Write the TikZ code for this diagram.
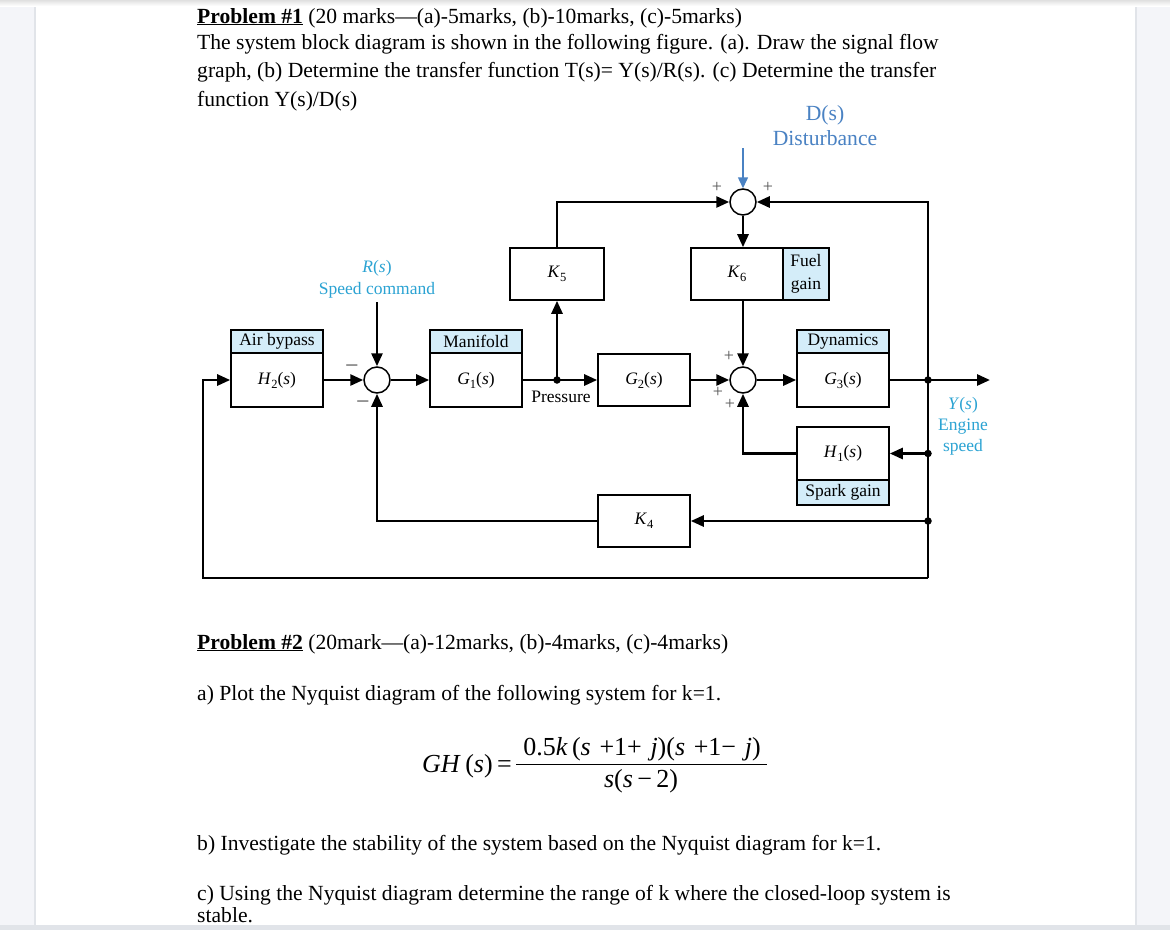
\documentclass[tikz,border=0pt]{standalone}
\usepackage{fontspec}
\setmainfont{Liberation Serif}
\usetikzlibrary{arrows.meta,calc}
\definecolor{bggray}{HTML}{F4F5F9}
\definecolor{edgegray}{HTML}{E1E4E9}
\definecolor{hdrblue}{HTML}{D4EDF9}
\definecolor{dblue}{HTML}{4A82C3}
\definecolor{cyanlbl}{HTML}{2BA3D3}
\definecolor{signgray}{HTML}{555555}
\newcommand{\sbs}[1]{\raisebox{-0.5ex}{\fontsize{12.5}{12.5}\selectfont #1}}
\newcommand{\figfont}{\fontsize{17.5}{20}\selectfont}
\newcommand{\txtfont}{\fontsize{21.6}{25}\selectfont}
\newcommand{\eqfont}{\fontsize{26}{28}\selectfont}
\begin{document}
\begin{tikzpicture}[x=1pt,y=-1pt,
  blk/.style={draw, line width=1.6pt, minimum width=92pt, minimum height=52pt, inner sep=0pt, font=\figfont},
  hdr/.style={draw, line width=1.6pt, fill=hdrblue, minimum width=92pt, minimum height=23pt, inner sep=0pt, font=\figfont},
  sumj/.style={draw, circle, line width=1.5pt, minimum size=26pt, inner sep=0pt, fill=white},
  conn/.style={line width=2.7pt, -{Triangle[length=13pt,width=11pt]}},
  jdot/.style={circle, fill=black, inner sep=0pt, minimum size=7.5pt},
  sgn/.style={font=\fontsize{18}{18}\selectfont, text=signgray, inner sep=0pt},
  msgn/.style={font=\fontsize{24}{24}\selectfont, text=signgray, inner sep=0pt},
  ptxt/.style={anchor=base west, inner sep=0pt, font=\txtfont},
]
\useasboundingbox (0,0) rectangle (1170,930);
% page
\fill[bggray] (0,0) rectangle (1170,930);
\fill[white] (35,5) rectangle (1136,925);
\draw[edgegray, line width=2pt] (35,5) -- (35,925);
\draw[edgegray, line width=2pt] (1136,5) -- (1136,925);
\fill[edgegray] (0,925) rectangle (1170,930);
\shade[top color=black!12, bottom color=white] (0,0) rectangle (1170,6);

% text
\node[ptxt] (l1) at (197,23) {\underline{\textbf{Problem \#1}} (20 marks---(a)-5marks, (b)-10marks, (c)-5marks)};
\node[ptxt] (l2) at (197,49) {The system block diagram is shown in the following figure. (a). Draw the signal flow};
\node[ptxt] (l3) at (197,77.5) {graph, (b) Determine the transfer function T(s)= Y(s)/R(s). (c) Determine the transfer};
\node[ptxt] (l4) at (197,106) {function Y(s)/D(s)};

% blocks
\node[hdr] (abh) at (277,341.5) {Air bypass};
\node[blk, minimum height=54pt] (H2) at (277,380) {\textit{H}\sbs{2}(\textit{s})};
\node[hdr] (mfh) at (476,341.5) {Manifold};
\node[blk, minimum height=54pt] (G1) at (476,380) {\textit{G}\sbs{1}(\textit{s})};
\node[blk] (G2) at (644,380) {\textit{G}\sbs{2}(\textit{s})};
\node[hdr] (dyh) at (843,341.5) {Dynamics};
\node[blk, minimum height=54pt] (G3) at (843,380) {\textit{G}\sbs{3}(\textit{s})};
\node[blk, minimum width=94pt] (K5) at (557,274) {\textit{K}\sbs{5}};
\node[blk] (K6) at (737,274) {\textit{K}\sbs{6}};
\node[hdr, minimum width=46pt, minimum height=52pt, align=center, font=\fontsize{17.5}{23}\selectfont] (fg) at (806,274) {Fuel\\gain};
\node[blk, minimum height=53pt] (H1) at (843,453.5) {\textit{H}\sbs{1}(\textit{s})};
\node[hdr, minimum height=25pt] (spk) at (843,492.5) {Spark gain};
\node[blk] (K4) at (644,521) {\textit{K}\sbs{4}};

\node[sumj] (S1) at (377,380) {};
\node[sumj] (S2) at (743,380) {};
\node[sumj] (S3) at (743,202) {};

\coordinate (YT) at (928,202);
\coordinate (YB) at (928,578);
\coordinate (LB) at (203,380);
\coordinate (P) at (557,380);
\coordinate (Y1) at (928,380);
\coordinate (Y2) at (928,453.5);
\coordinate (Y3) at (928,521);
\coordinate (YO) at (990,380);
\coordinate (RI) at (377,302);
\coordinate (DI) at (743,148);

\draw[conn] (YB) -- (YT) -- (S3.east);
\draw[conn] (YB) -| (LB) -- (H2.west);
\draw[conn] (H2.east) -- (S1.west);
\draw[conn] (RI) -- (S1.north);
\draw[conn] (S1.east) -- (G1.west);
\draw[conn] (G1.east) -- (G2.west);
\draw[conn] (P) -- (K5.south);
\draw[conn] (K5.north) |- (S3.west);
\draw[conn] (S3.south) -- (S3.south |- K6.north);
\draw[conn] (S2.north |- K6.south) -- (S2.north);
\draw[conn] (G2.east) -- (S2.west);
\draw[conn] (S2.east) -- (G3.west);
\draw[conn] (G3.east) -- (YO);
\draw[conn] (Y2) -- (H1.east);
\draw[conn] (H1.west) -| (S2.south);
\draw[conn] (Y3) -- (K4.east);
\draw[conn] (K4.west) -| (S1.south);
\draw[dblue, line width=1.5pt, -{Triangle[length=11pt,width=10pt]}] (DI) -- (S3.north);
\foreach \c in {P,Y1,Y2,Y3} \node[jdot] at (\c) {};

% labels
\node[font=\txtfont, text=dblue] (Dl) at (825,115) {D(s)};
\node[font=\txtfont, text=dblue] (Dist) at (825,138) {Disturbance};
\node[font=\figfont, text=cyanlbl] (Rl) at (377,268) {\textit{R}(\textit{s})};
\node[font=\figfont, text=cyanlbl] (Sc) at (377,290) {Speed command};
\node[font=\figfont] (pr) at (561,397) {Pressure};
\node[font=\fontsize{17.5}{21}\selectfont, text=cyanlbl, align=center] (Yl) at (963,426) {\textit{Y}(\textit{s})\\Engine\\speed};

\node[sgn] at (717,187) {+};
\node[sgn] at (768,187) {+};
\node[msgn] at (352,369) {−};
\node[msgn] at (363,405) {−};
\node[sgn] at (729,356) {+};
\node[sgn] at (718,392) {+};
\node[sgn] at (730,404) {+};

% problem 2
\node[ptxt] (p2) at (197,649) {\underline{\textbf{Problem \#2}} (20mark---(a)-12marks, (b)-4marks, (c)-4marks)};
\node[ptxt] (pa) at (197,700) {a) Plot the Nyquist diagram of the following system for k=1.};
\node[anchor=base west, font=\eqfont, inner sep=0pt] (gh) at (422,772) {\textit{GH}\,(\textit{s})\,=};
\node[anchor=base, font=\eqfont, inner sep=0pt] (num) at (642,755) {0.5\textit{k}\,(\textit{s}\,\,+1+\,\,\textit{j})(\textit{s}\,\,+1−\,\,\textit{j})};
\draw[line width=1pt] (516,764) -- (767,764);
\node[anchor=base, font=\eqfont, inner sep=0pt] (den) at (641,787) {\textit{s}(\textit{s}\,−\,2)};
\node[ptxt] (pb) at (197,850) {b) Investigate the stability of the system based on the Nyquist diagram for k=1.};
\node[ptxt] (pc) at (197,900) {c) Using the Nyquist diagram determine the range of k where the closed-loop system is};
\node[ptxt] (pc2) at (197,922) {stable.};
\end{tikzpicture}
\end{document}
